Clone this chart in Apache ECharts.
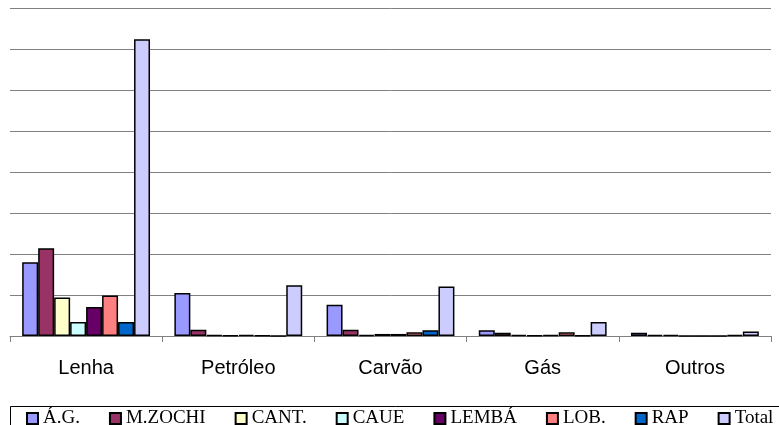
<!DOCTYPE html>
<html>
<head>
<meta charset="utf-8">
<script src="https://cdn.jsdelivr.net/npm/echarts@6/dist/echarts.min.js"></script>
<style>
    html, body { margin: 0; padding: 0; background: #fff; }
    #chart { width: 779px; height: 425px; }
</style>
</head>
<body>
<div id="chart"></div>
<script>
var categories = ["Lenha", "Petróleo", "Carvão", "Gás", "Outros"];

var seriesNames = ["Á.G.", "M.ZOCHI", "CANT.", "CAUE", "LEMBÁ", "LOB.", "RAP", "Total"];

var agValues = [18.0, 10.5, 7.6, 1.4, 0.8];
var mzochiValues = [21.4, 1.5, 1.5, 0.8, 0.3];
var cantValues = [9.4, 0.2, 0.3, 0.3, 0.2];
var caueValues = [3.4, 0.1, 0.5, 0.1, 0];
var lembaValues = [7.1, 0.3, 0.5, 0.2, 0];
var lobValues = [9.9, 0.1, 0.9, 0.9, 0];
var rapValues = [3.4, 0, 1.4, 0.1, 0.2];
var totalValues = [72.4, 12.4, 12.1, 3.4, 1.1];

var allValues = [agValues, mzochiValues, cantValues, caueValues, lembaValues, lobValues, rapValues, totalValues];

var color = ["#9999FF", "#993366", "#FFFFCC", "#CCFFFF", "#660066", "#FF8080", "#0066CC", "#CCCCFF"];

var chartDom = document.getElementById("chart");
var myChart = echarts.init(chartDom, null, { renderer: "canvas" });

var series = [];
seriesNames.forEach(function (name, i) {
    series.push({
        name: name,
        type: "bar",
        barGap: "0%",
        barCategoryGap: "16%",
        itemStyle: {
            color: color[i],
            borderColor: "#000",
            borderWidth: 1.5
        },
        data: allValues[i]
    });
});

var option = {
    animation: false,
    color: color,
    backgroundColor: "#fff",
    grid: {
        left: 10,
        right: 8,
        top: 8,
        bottom: 89
    },
    legend: {
        data: seriesNames,
        left: 26,
        top: 409,
        itemWidth: 11,
        itemHeight: 11,
        itemGap: 29,
        padding: 0,
        icon: "rect",
        itemStyle: { borderColor: "#000", borderWidth: 2 },
        textStyle: {
            fontFamily: "Liberation Serif",
            fontSize: 19,
            color: "#000"
        }
    },
    xAxis: {
        type: "category",
        data: categories,
        axisLine: { lineStyle: { color: "#808080", width: 1 } },
        axisTick: { show: true, length: 6, lineStyle: { color: "#808080" } },
        axisLabel: {
            margin: 22,
            fontFamily: "Liberation Sans",
            fontSize: 20,
            color: "#000"
        }
    },
    yAxis: {
        type: "value",
        min: 0,
        max: 80,
        interval: 10,
        axisLine: { show: false },
        axisTick: { show: false },
        axisLabel: { show: false },
        splitLine: { lineStyle: { color: "#808080", width: 1 } }
    },
    graphic: [{
        type: "rect",
        left: 8,
        top: 404,
        shape: { width: 800, height: 40 },
        style: { fill: "none", stroke: "#000", lineWidth: 1 },
        silent: true
    }],
    series: series
};

option && myChart.setOption(option);
</script>
</body>
</html>
